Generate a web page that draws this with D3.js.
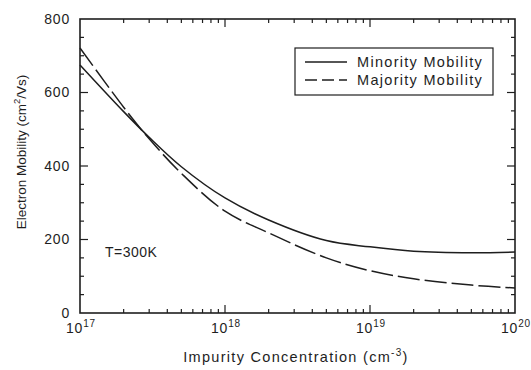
<!DOCTYPE html>
<html>
<head>
<meta charset="utf-8">
<script src="https://cdn.jsdelivr.net/npm/d3@7"></script>
<style>
  body { margin: 0; background: #fff; }
  svg { font-family: "Liberation Sans", Arial, sans-serif; }
</style>
</head>
<body>
<svg width="531" height="370"></svg>
<script>
// values
var concentration = [1e17, 2e17, 3e17, 5e17, 1e18, 2e18, 5e18, 1e19, 2e19, 5e19, 1e20];
var minority = [675, 548, 478, 398, 313, 253, 197, 180, 168, 164, 166];
var majority = [721, 560, 474, 380, 277, 218, 150, 115, 93, 76, 68];
var xTickExp = [17, 18, 19, 20];
var yTicks = [0, 200, 400, 600, 800];
var seriesNames = ["Minority Mobility", "Majority Mobility"];

var svg = d3.select("svg"),
    margin = {top: 19, right: 16, bottom: 57, left: 80},
    width = +svg.attr("width"),
    height = +svg.attr("height");

var ink = "#1e1e1e";

var x = d3.scaleLog()
    .domain([1e17, 1e20])
    .range([margin.left, width - margin.right]);

var y = d3.scaleLinear()
    .domain([0, 800])
    .range([height - margin.bottom, margin.top]);

var x0 = x.range()[0], x1 = x.range()[1], y0 = y.range()[0], y1 = y.range()[1];

// minor log ticks
var xMinor = [];
for (var e = 17; e < 20; e++) {
  for (var m = 2; m <= 9; m++) xMinor.push(m * Math.pow(10, e));
}
var yMinor = d3.range(0, 801, 50).filter(function(v) { return v % 200 != 0; });

var ticks = svg.append("g").attr("stroke", ink).attr("stroke-width", 1.2);

// bottom and top ticks (pointing inward)
[y0, y1].forEach(function(base, i) {
  var dir = i == 0 ? -1 : 1;
  ticks.selectAll(null).data(xTickExp.slice(1, -1)).enter().append("line")
      .attr("x1", function(d) { return x(Math.pow(10, d)); })
      .attr("x2", function(d) { return x(Math.pow(10, d)); })
      .attr("y1", base).attr("y2", base + dir * 8);
  ticks.selectAll(null).data(xMinor).enter().append("line")
      .attr("x1", function(d) { return x(d); })
      .attr("x2", function(d) { return x(d); })
      .attr("y1", base).attr("y2", base + dir * 4);
});

// left and right ticks
[x0, x1].forEach(function(base, i) {
  var dir = i == 0 ? 1 : -1;
  ticks.selectAll(null).data(yTicks.slice(1, -1)).enter().append("line")
      .attr("y1", function(d) { return y(d); })
      .attr("y2", function(d) { return y(d); })
      .attr("x1", base).attr("x2", base + dir * 8);
  ticks.selectAll(null).data(yMinor).enter().append("line")
      .attr("y1", function(d) { return y(d); })
      .attr("y2", function(d) { return y(d); })
      .attr("x1", base).attr("x2", base + dir * 4);
});

// frame
svg.append("rect")
    .attr("x", x0).attr("y", y1)
    .attr("width", x1 - x0).attr("height", y0 - y1)
    .attr("fill", "none").attr("stroke", ink).attr("stroke-width", 1.6);

// y tick labels
svg.append("g")
    .attr("font-size", 14).attr("fill", ink).attr("text-anchor", "end")
    .attr("letter-spacing", 0.8)
  .selectAll("text")
  .data(yTicks)
  .enter().append("text")
    .attr("x", x0 - 10)
    .attr("y", function(d) { return y(d); })
    .attr("dy", "0.35em")
    .text(function(d) { return d; });

// x tick labels 10^n
var xl = svg.append("g")
    .attr("font-size", 14).attr("fill", ink).attr("letter-spacing", 0.8)
  .selectAll("text")
  .data(xTickExp)
  .enter().append("text")
    .attr("x", function(d) { return x(Math.pow(10, d)) - 14; })
    .attr("y", y0 + 20);
xl.append("tspan").text("10");
xl.append("tspan").attr("font-size", 10).attr("dy", -6).text(function(d) { return d; });

// curves
var line = d3.line()
    .curve(d3.curveCatmullRom)
    .x(function(d) { return x(d[0]); })
    .y(function(d) { return y(d[1]); });

svg.append("path")
    .datum(d3.zip(concentration, minority))
    .attr("fill", "none").attr("stroke", ink).attr("stroke-width", 1.5)
    .attr("d", line);

svg.append("path")
    .datum(d3.zip(concentration, majority))
    .attr("fill", "none").attr("stroke", ink).attr("stroke-width", 1.5)
    .attr("stroke-dasharray", "22,5")
    .attr("d", line);

// legend
var lg = svg.append("g").attr("transform", "translate(295,48)");
lg.append("rect")
    .attr("width", 198).attr("height", 47)
    .attr("fill", "#fff").attr("stroke", ink).attr("stroke-width", 1.2);
seriesNames.forEach(function(name, i) {
  lg.append("line")
      .attr("x1", 10).attr("x2", 52)
      .attr("y1", 14 + i * 18).attr("y2", 14 + i * 18)
      .attr("stroke", ink).attr("stroke-width", 1.3)
      .attr("stroke-dasharray", i == 0 ? null : "12,5");
  lg.append("text")
      .attr("x", 62).attr("y", 19 + i * 18)
      .attr("font-size", 14.5).attr("fill", ink).attr("letter-spacing", 1.3)
      .text(name);
});

// annotation
svg.append("text")
    .attr("x", 105).attr("y", 257)
    .attr("font-size", 14).attr("fill", ink).attr("letter-spacing", 0.5)
    .text("T=300K");

// axis titles
var xt = svg.append("text")
    .attr("x", 296).attr("y", 362)
    .attr("text-anchor", "middle")
    .attr("font-size", 14.5).attr("fill", ink).attr("letter-spacing", 1.3);
xt.append("tspan").text("Impurity Concentration (cm");
xt.append("tspan").attr("font-size", 10).attr("dy", -6).text("-3");
xt.append("tspan").attr("dy", 6).text(")");

var yt = svg.append("text")
    .attr("transform", "translate(26,152) rotate(-90)")
    .attr("text-anchor", "middle")
    .attr("font-size", 13.5).attr("fill", ink);
yt.append("tspan").text("Electron Mobility (cm");
yt.append("tspan").attr("font-size", 9.5).attr("dy", -6).text("2");
yt.append("tspan").attr("dy", 6).text("/Vs)");
</script>
</body>
</html>
